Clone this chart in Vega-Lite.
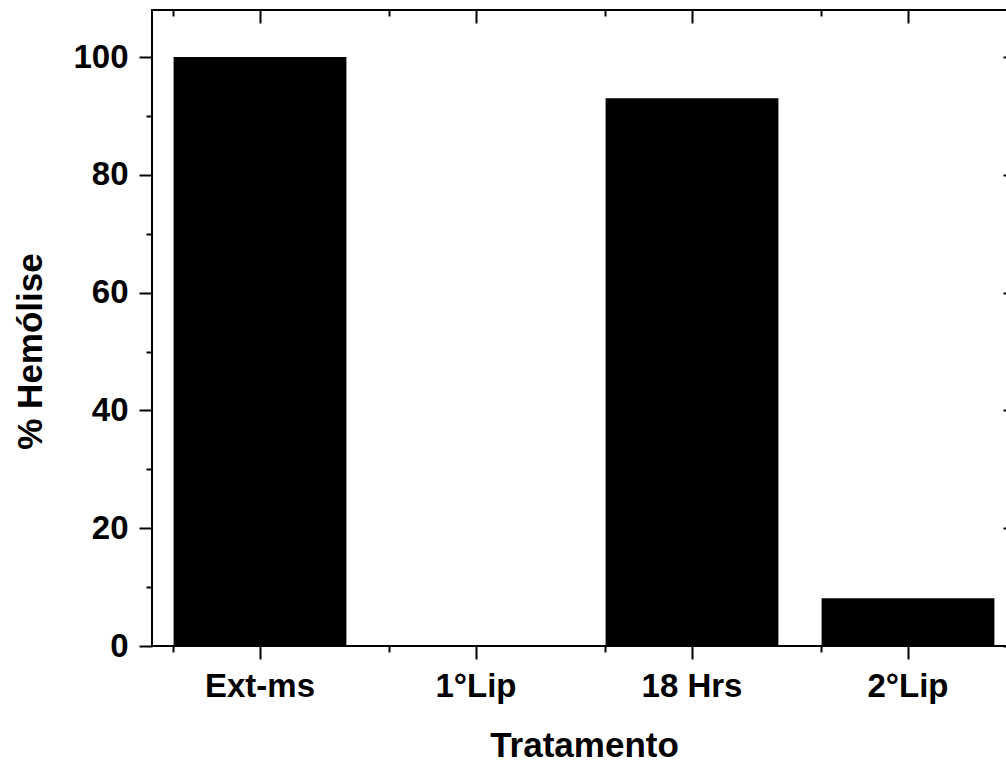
{
  "$schema": "https://vega.github.io/schema/vega-lite/v6.json",
  "width": 864,
  "height": 636,
  "autosize": {"type": "none"},
  "padding": {"left": 152, "top": 10, "right": 0, "bottom": 119},
  "background": "white",
  "data": {
    "values": [
      {"Tratamento": "Ext-ms", "Hemolise": 100},
      {"Tratamento": "1°Lip", "Hemolise": 0},
      {"Tratamento": "18 Hrs", "Hemolise": 93},
      {"Tratamento": "2°Lip", "Hemolise": 8.1}
    ]
  },
  "config": {
    "view": {"stroke": "black", "strokeWidth": 2},
    "axis": {
      "domain": false,
      "grid": false,
      "tickColor": "black",
      "tickWidth": 2,
      "labelFont": "Liberation Sans",
      "labelFontSize": 33,
      "labelFontWeight": "bold",
      "labelColor": "black",
      "titleFont": "Liberation Sans",
      "titleFontSize": 35,
      "titleFontWeight": "bold",
      "titleColor": "black"
    }
  },
  "layer": [
    {
      "mark": {"type": "bar", "color": "black"},
      "encoding": {
        "x": {"field": "Tratamento", "type": "nominal", "sort": null,
              "scale": {"paddingInner": 0.2, "paddingOuter": 0.1},
              "axis": {"orient": "bottom", "title": "Tratamento", "labelAngle": 0, "tickSize": 13, "labelPadding": 11, "titleBaseline": "alphabetic", "titleY": 110}},
        "y": {"field": "Hemolise", "type": "quantitative",
              "scale": {"domain": [0, 108], "nice": false},
              "axis": {"orient": "left", "title": "% Hemólise", "values": [0, 20, 40, 60, 80, 100], "tickSize": 13, "labelPadding": 11, "titleAngle": -90, "titleBaseline": "alphabetic", "titleX": -111, "titleY": 341}}
      }
    },
    {
      "mark": {"type": "bar", "opacity": 0},
      "encoding": {
        "x": {"field": "Tratamento", "type": "nominal", "sort": null,
              "scale": {"paddingInner": 0.2, "paddingOuter": 0.1},
              "axis": {"orient": "bottom", "title": null, "labels": false, "bandPosition": 0, "tickSize": 6}},
        "y": {"field": "Hemolise", "type": "quantitative",
              "scale": {"domain": [0, 108], "nice": false},
              "axis": {"orient": "left", "title": null, "labels": false, "values": [10, 30, 50, 70, 90], "tickSize": 6}}
      }
    },
    {
      "mark": {"type": "bar", "opacity": 0},
      "encoding": {
        "x": {"field": "Tratamento", "type": "nominal", "sort": null,
              "scale": {"paddingInner": 0.2, "paddingOuter": 0.1},
              "axis": {"orient": "top", "title": null, "labels": false, "tickSize": -13}},
        "y": {"field": "Hemolise", "type": "quantitative",
              "scale": {"domain": [0, 108], "nice": false},
              "axis": {"orient": "right", "title": null, "labels": false, "values": [0, 20, 40, 60, 80, 100], "tickSize": -13}}
      }
    },
    {
      "mark": {"type": "bar", "opacity": 0},
      "encoding": {
        "x": {"field": "Tratamento", "type": "nominal", "sort": null,
              "scale": {"paddingInner": 0.2, "paddingOuter": 0.1},
              "axis": {"orient": "top", "title": null, "labels": false, "bandPosition": 0, "tickSize": -6}},
        "y": {"field": "Hemolise", "type": "quantitative",
              "scale": {"domain": [0, 108], "nice": false},
              "axis": {"orient": "right", "title": null, "labels": false, "values": [10, 30, 50, 70, 90], "tickSize": -6}}
      }
    }
  ],
  "resolve": {"axis": {"x": "independent", "y": "independent"}}
}
